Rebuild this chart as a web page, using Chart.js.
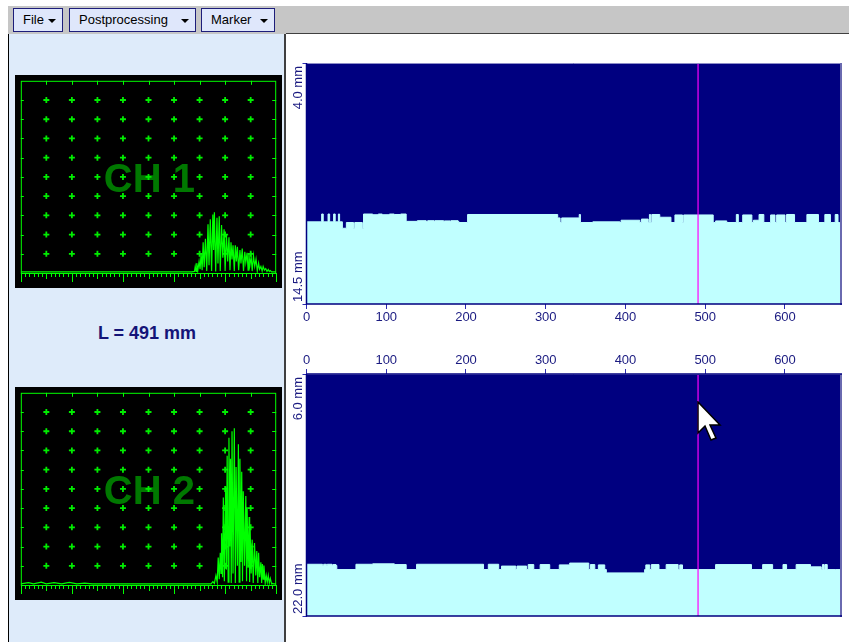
<!DOCTYPE html>
<html>
<head>
<meta charset="utf-8">
<title>Thickness B-scan</title>
<script src="https://cdn.jsdelivr.net/npm/chart.js@4.4.0/dist/chart.umd.min.js"></script>
<style>
  body { margin: 0; width: 849px; height: 642px; position: relative; overflow: hidden; background: #fff;
         font-family: "Liberation Sans", Arial, sans-serif; }
  #toolbar { position: absolute; left: 8px; top: 6px; width: 841px; height: 28px; background: #c6c6c6; }
  .menu { position: absolute; top: 2px; height: 24px; box-sizing: border-box; background: #dfe7fb;
          border: 1px solid #1d1d7a; font-size: 13px; line-height: 22px; color: #000; padding-left: 9px; }
  .menu::after { content: ""; position: absolute; right: 6px; top: 10px; border-left: 4px solid transparent;
                 border-right: 4px solid transparent; border-top: 4px solid #000; }
  #leftPanel { position: absolute; left: 8px; top: 34px; width: 278px; height: 608px; box-sizing: border-box;
               background: #deebfa; border-left: 1px solid #000; border-right: 2px solid #404040; }
  #rightPanel { position: absolute; left: 286px; top: 33px; width: 563px; height: 609px; box-sizing: border-box;
                background: #fff; border-top: 1px solid #404040; }
  #lengthLabel { position: absolute; left: 8px; width: 278px; top: 323px; text-align: center;
                 font-size: 18px; font-weight: bold; color: #141478; }
  canvas { position: absolute; }
  #cursor { position: absolute; left: 697px; top: 401px; }
</style>
</head>
<body>
<div id="toolbar">
  <div class="menu" style="left:5px; width:50px;">File</div>
  <div class="menu" style="left:61px; width:127px;">Postprocessing</div>
  <div class="menu" style="left:193px; width:74px;">Marker</div>
</div>
<div id="leftPanel"></div>
<div id="rightPanel"></div>
<div id="lengthLabel"></div>

<canvas id="ch1" width="267" height="213" style="left:15px; top:75px;"></canvas>
<canvas id="ch2" width="267" height="213" style="left:15px; top:387px;"></canvas>
<canvas id="scan1" width="563" height="300" style="left:286px; top:34px;"></canvas>
<canvas id="scan2" width="563" height="308" style="left:286px; top:334px;"></canvas>

<svg id="cursor" width="26" height="42" viewBox="0 0 26 42">
  <polygon points="1,1 1,32 8,25 14,39 19,37 13,24 23,24" fill="#fff" stroke="#000" stroke-width="1.5"/>
</svg>

<script>
// scan position of the marker (mm)
const markerPos = 491;
const scanLength = 669;
const scanTicks = [0, 100, 200, 300, 400, 500, 600];

// CH 1 B-scan: depth of the back wall (mm), step starts
const scan1Range = [4.0, 14.5];
const scan1Pos = [0, 19, 21, 27, 29, 34, 36, 40, 41.5, 45, 50, 59, 60.5, 70, 71.5, 83, 90, 95, 104, 110, 118, 125,
  139, 150, 152, 160, 161, 172, 173, 180, 181, 190, 191, 202, 315, 318, 320, 342, 343.5, 359, 393, 394.5,
  418, 420, 428.5, 430, 431.5, 433, 443, 457, 462, 471.5, 473, 510, 513, 527, 539, 541.5, 547, 558.5, 560.5,
  567.5, 573.5, 582, 587.5, 589.5, 600, 602, 612, 627.5, 642, 650, 657, 663, 666.5, 668, 669];
const scan1Depth = [10.58, 10.92, 10.58, 10.92, 10.58, 10.92, 10.58, 10.92, 10.58, 10.92, 11.2, 10.95, 11.2, 10.95, 11.2,
  10.58, 10.61, 10.58, 10.61, 10.58, 10.6, 10.58,
  10.9, 10.87, 10.9, 10.87, 10.9, 10.87, 10.9, 10.88, 10.9, 10.87, 10.9, 10.95, 10.6, 10.75, 10.95, 10.75, 10.6, 10.95, 10.92, 10.95,
  10.85, 10.95, 10.8, 10.95, 10.6, 10.95, 10.6, 10.72, 10.95, 10.62, 10.95, 10.62, 10.95, 10.88, 10.95, 10.6, 10.95, 10.62, 10.95,
  10.85, 10.6, 10.95, 10.62, 10.95, 10.62, 10.95, 10.6, 10.95, 10.6, 10.95, 10.6, 10.95, 10.6, 10.95, 10.95];

// CH 2 B-scan
const scan2Range = [6.0, 22.0];
const scan2Pos = [0, 20, 21.5, 25, 26, 32, 33, 37, 38, 62, 83, 110, 111, 125, 138, 222, 228, 241, 244.5, 262.5, 264,
  276, 278, 285, 293, 305, 317, 330, 354, 356, 361.5, 366, 374, 376, 424, 425.5, 430.5, 432.5, 442, 451,
  466, 468, 471.5, 513, 558, 572, 584.5, 597.5, 602, 614, 632, 645.5, 647, 649, 650, 653, 663, 669];
const scan2Depth = [18.66, 18.58, 18.66, 18.58, 18.66, 18.58, 18.66, 18.6, 18.66, 18.93, 18.58, 18.55, 18.58, 18.6, 18.93,
  18.58, 18.93, 18.58, 18.93, 18.7, 18.93, 18.7, 18.93, 18.6, 18.93, 18.6, 18.93, 18.62, 18.5, 18.93, 18.6, 18.93,
  18.62, 18.93, 19.15, 18.93, 18.62, 18.93, 18.6, 18.93, 18.6, 18.93, 18.62, 18.93, 18.6, 18.93, 18.6, 18.93,
  18.6, 18.93, 18.6, 18.75, 18.93, 18.6, 18.93, 18.6, 18.93, 18.93];

// A-scans: time base in screen divisions (0-10), amplitude in % of screen height
const ch1X = [0, 6.70, 6.80, 6.83, 6.86, 6.89, 6.93, 6.98, 7.02, 7.06, 7.10, 7.14, 7.18, 7.23, 7.28, 7.33, 7.37, 7.42,
  7.47, 7.52, 7.55, 7.58, 7.63, 7.68, 7.72, 7.77, 7.81, 7.86, 7.91, 7.96, 8.00, 8.05, 8.10, 8.15, 8.19, 8.23, 8.27,
  8.31, 8.36, 8.40, 8.44, 8.48, 8.53, 8.58, 8.62, 8.67, 8.72, 8.77, 8.81, 8.86, 8.90, 8.93, 8.97, 9.02, 9.06, 9.11,
  9.16, 9.21, 9.26, 9.31, 9.35, 9.40, 9.45, 9.49, 9.54, 9.59, 9.64, 9.69, 9.73, 9.77, 9.82, 10];
const ch1Amp = [0.6, 0.6, 0.8, 3.4, 0.8, 5.1, 1.2, 6.0, 2.0, 10.2, 1.5, 16.0, 3.0, 17.8, 1.0, 25.3, 4.0, 27.9,
  1.0, 30.4, 12.0, 31.6, 0.8, 28.7, 5.0, 29.5, 1.0, 25.0, 8.0, 22.8, 1.0, 20.3, 6.0, 18.6, 1.5, 16.0, 7.0,
  14.4, 1.0, 14.4, 6.0, 13.6, 1.5, 11.9, 5.0, 12.7, 1.0, 11.0, 5.5, 10.5, 1.5, 10.2, 4.0, 8.5, 1.0, 9.0,
  3.5, 7.3, 1.0, 5.1, 2.0, 3.4, 1.0, 3.4, 1.5, 2.3, 0.8, 1.8, 0.8, 1.3, 0.6, 0.6];

const ch2X = [0, 0.3, 0.5, 0.8, 1.0, 1.3, 1.6, 1.9, 2.2, 2.5, 2.8, 7.45, 7.52, 7.58, 7.64, 7.69, 7.73, 7.77, 7.81,
  7.84, 7.86, 7.90, 7.93, 7.97, 8.02, 8.05, 8.08, 8.12, 8.15, 8.18, 8.21, 8.24, 8.27, 8.31, 8.36, 8.40, 8.43,
  8.48, 8.52, 8.55, 8.58, 8.62, 8.65, 8.68, 8.71, 8.76, 8.81, 8.84, 8.86, 8.90, 8.94, 8.96, 8.98, 9.02, 9.06,
  9.10, 9.15, 9.20, 9.24, 9.28, 9.31, 9.35, 9.40, 9.43, 9.46, 9.49, 9.52, 9.57, 9.61, 9.65, 9.69, 9.73, 9.77,
  9.82, 9.86, 9.90, 10];
const ch2Amp = [0.6, 1.2, 0.6, 1.5, 0.6, 1.2, 0.6, 1.4, 0.6, 1.0, 0.6, 0.6, 1.7, 0.8, 5.0, 1.5, 14.3, 3.0, 16.8,
  6.0, 26.9, 4.0, 45.5, 2.0, 51.3, 8.0, 67.3, 1.5, 76.6, 20.0, 65.7, 1.0, 80.0, 6.0, 81.6, 1.0, 61.4,
  10.0, 73.2, 1.5, 65.7, 12.0, 58.9, 2.0, 48.8, 10.0, 46.3, 2.0, 40.4, 9.0, 35.4, 1.5, 28.6, 6.0, 23.6,
  1.0, 21.9, 5.0, 17.7, 1.0, 16.8, 4.0, 11.8, 1.0, 10.9, 3.0, 10.1, 1.0, 5.0, 1.5, 5.0, 1.0, 3.4,
  0.6, 0.8, 0.6, 0.6];

document.getElementById('lengthLabel').innerText = `L = ${markerPos} mm`;

const FONT = '"Liberation Sans", Arial, sans-serif';

// ---------- A-scan screens ----------
const scopeDecor = {
    id: 'scopeDecor',
    beforeDraw(chart) {
        const { ctx, width, height } = chart;
        ctx.save();
        ctx.fillStyle = '#000';
        ctx.fillRect(0, 0, width, height);
        ctx.restore();
    },
    beforeDatasetsDraw(chart, args, opts) {
        const { ctx, chartArea: a } = chart;
        ctx.save();
        ctx.fillStyle = '#007800';
        ctx.font = 'bold 40px ' + FONT;
        ctx.textAlign = 'left';
        ctx.textBaseline = 'alphabetic';
        ctx.fillText(opts.label, a.left + 83, (a.top + a.bottom) / 2 + 15);
        ctx.restore();
    },
    afterDatasetsDraw(chart) {
        const { ctx, chartArea: a, scales: { x, y } } = chart;
        ctx.save();
        ctx.strokeStyle = '#00ff00';
        ctx.lineWidth = 1;
        ctx.strokeRect(a.left + 0.5, a.top + 0.5, a.width - 1, a.height);
        ctx.beginPath();
        for (let d = 1; d < 10; d++) {
            const px = Math.round(x.getPixelForValue(d)) + 0.5;
            ctx.moveTo(px, a.top); ctx.lineTo(px, a.top + 4);
            const py = Math.round(y.getPixelForValue(d * 10)) + 0.5;
            ctx.moveTo(a.left, py); ctx.lineTo(a.left + 3, py);
            ctx.moveTo(a.right - 4, py); ctx.lineTo(a.right, py);
        }
        // ruler below the base line
        for (let k = 0; k <= 60; k++) {
            const px = Math.round(x.getPixelForValue(k / 6)) + 0.5;
            let len = 4;
            if (k % 6 === 0) len = (k / 6) % 2 === 0 ? 9 : 6;
            ctx.moveTo(px, a.bottom); ctx.lineTo(px, a.bottom + len);
        }
        ctx.stroke();
        ctx.restore();
    }
};

function makeScope(id, label, xs, amps) {
    const crosses = [];
    for (let i = 1; i < 10; i++) {
        for (let j = 1; j < 10; j++) crosses.push({ x: i, y: j * 10 });
    }
    return new Chart(document.getElementById(id), {
        type: 'line',
        data: {
            datasets: [{
                data: xs.map((v, i) => ({ x: v, y: amps[i] })),
                borderColor: '#00ff00',
                borderWidth: 1.2,
                pointRadius: 0,
                tension: 0
            }, {
                data: crosses,
                showLine: false,
                pointStyle: 'cross',
                pointRadius: 3,
                borderColor: '#00ee00',
                borderWidth: 1.8
            }]
        },
        options: {
            responsive: false,
            devicePixelRatio: 1,
            animation: false,
            events: [],
            layout: { padding: { left: 0, right: 0, top: 0, bottom: 15 } },
            scales: {
                x: { type: 'linear', min: 0, max: 10, display: false },
                y: { min: 0, max: 100, display: false }
            },
            plugins: {
                legend: { display: false },
                tooltip: { enabled: false },
                scopeDecor: { label: label }
            }
        },
        plugins: [scopeDecor]
    });
}

makeScope('ch1', 'CH 1', ch1X, ch1Amp);
makeScope('ch2', 'CH 2', ch2X, ch2Amp);

// ---------- B-scans ----------
const scanDecor = {
    id: 'scanDecor',
    beforeDraw(chart) {
        const { ctx, chartArea: a } = chart;
        ctx.save();
        ctx.fillStyle = '#000080';
        ctx.fillRect(a.left, a.top, a.width, a.height);
        ctx.restore();
    },
    afterDatasetsDraw(chart) {
        const { ctx, chartArea: a, scales: { y } } = chart;
        ctx.save();
        ctx.lineWidth = 1;
        ctx.strokeStyle = '#8c8cc8';
        ctx.beginPath();
        ctx.moveTo(a.left, a.top + 0.5); ctx.lineTo(a.right, a.top + 0.5);
        ctx.stroke();
        ctx.lineWidth = 2;
        ctx.strokeStyle = '#6a6ab0';
        ctx.beginPath();
        ctx.moveTo(a.right + 1, a.top); ctx.lineTo(a.right + 1, a.bottom + 1);
        ctx.stroke();
        ctx.lineWidth = 1.5;
        ctx.strokeStyle = '#000080';
        ctx.beginPath();
        ctx.moveTo(a.left, a.top); ctx.lineTo(a.left, a.bottom);
        ctx.lineTo(a.right + 2, a.bottom);
        if (chart.options.scales.x.position === 'top') {
            ctx.moveTo(a.left, a.top); ctx.lineTo(a.right + 2, a.top);
        }
        ctx.stroke();

        // depth labels, rotated along the axis
        ctx.fillStyle = '#1a1a80';
        ctx.font = '13px ' + FONT;
        ctx.textBaseline = 'alphabetic';
        y.ticks.forEach((t, i) => {
            const py = y.getPixelForValue(t.value);
            ctx.save();
            ctx.translate(a.left - 5, i === 0 ? py + 3 : py - 2);
            ctx.rotate(-Math.PI / 2);
            ctx.textAlign = i === 0 ? 'right' : 'left';
            ctx.fillText(t.value.toFixed(1) + ' mm', 0, 0);
            ctx.restore();
        });
        ctx.restore();
    }
};

function makeScan(id, pos, depth, range, xPosition, pad, xHeight) {
    return new Chart(document.getElementById(id), {
        type: 'line',
        data: {
            datasets: [{
                data: [{ x: markerPos, y: range[0] }, { x: markerPos, y: range[1] }],
                borderColor: '#ff00ff',
                borderWidth: 1.2,
                pointRadius: 0,
                fill: false
            }, {
                data: pos.map((p, i) => ({ x: p, y: depth[i] })),
                stepped: 'after',
                borderColor: '#c0ffff',
                borderWidth: 1,
                backgroundColor: '#c0ffff',
                pointRadius: 0,
                fill: 'start'
            }]
        },
        options: {
            responsive: false,
            devicePixelRatio: 1,
            animation: false,
            events: [],
            layout: { padding: pad },
            scales: {
                x: {
                    type: 'linear',
                    position: xPosition,
                    min: 0,
                    max: scanLength,
                    afterBuildTicks: s => { s.ticks = scanTicks.map(v => ({ value: v })); },
                    afterFit: s => { s.height = xHeight; },
                    grid: { drawOnChartArea: false, tickLength: 5, color: '#2c2cb0' },
                    border: { display: false },
                    ticks: { color: '#1a1a80', font: { size: 13, family: FONT }, padding: 1, maxRotation: 0 }
                },
                y: {
                    type: 'linear',
                    min: range[0],
                    max: range[1],
                    reverse: true,
                    afterBuildTicks: s => { s.ticks = range.map(v => ({ value: v })); },
                    afterFit: s => { s.width = 20.5; },
                    grid: { drawOnChartArea: false, tickLength: 4, color: '#2c2cb0' },
                    border: { display: false },
                    ticks: { display: false }
                }
            },
            plugins: { legend: { display: false }, tooltip: { enabled: false } }
        },
        plugins: [scanDecor]
    });
}

makeScan('scan1', scan1Pos, scan1Depth, scan1Range, 'bottom', { top: 29, right: 9, left: 0, bottom: 0 }, 30);
makeScan('scan2', scan2Pos, scan2Depth, scan2Range, 'top', { top: 0, right: 9, left: 0, bottom: 26 }, 40);
</script>
</body>
</html>
